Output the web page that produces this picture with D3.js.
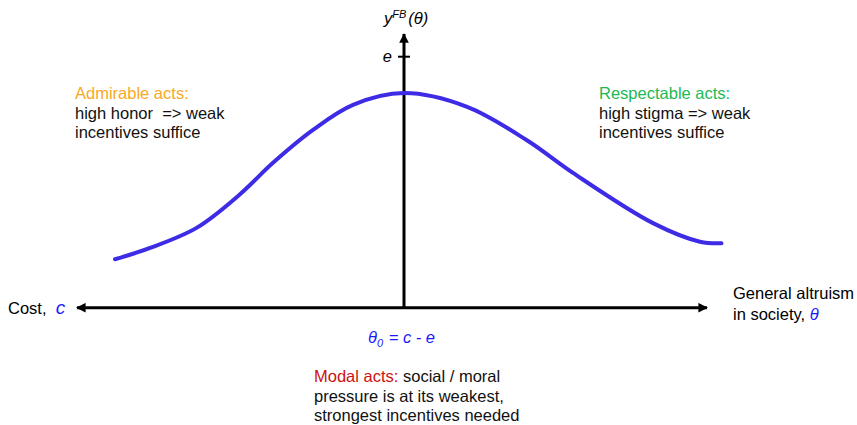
<!DOCTYPE html>
<html>
<head>
<meta charset="utf-8">
<script src="https://cdn.jsdelivr.net/npm/d3@7"></script>
<style>
  body { margin: 0; background: #fff; }
  svg { font-family: "Liberation Sans", Arial, sans-serif; }
  text { white-space: pre; }
</style>
</head>
<body>
<div id="chart"></div>
<script>
// curva y^FB(theta), letta a occhio dall'immagine
const thetaVals = [-5.78, -5.08, -4.15, -3.28, -2.62, -1.82, -1.02, 0, 1.25, 2.45, 3.38, 4.98, 5.92, 6.35];
const yVals = [0.193, 0.238, 0.318, 0.452, 0.577, 0.708, 0.808, 0.855, 0.801, 0.668, 0.537, 0.337, 0.263, 0.257];

// estremi degli assi (in unita' dei dati)
const xAxisExtent = [-6.54, 6.06];
const yAxisTop = 1.09;
const eValue = 1;

const width = 857, height = 425;
const fs = 16.5; // dimensione testo

const svg = d3.select("#chart").append("svg")
    .attr("width", width)
    .attr("height", height);

const x = d3.scaleLinear().domain([0, 1]).range([404, 454]); // 50px per unita'
const y = d3.scaleLinear().domain([0, 1]).range([307.7, 56.7]);

// punte delle frecce
const defs = svg.append("defs");
defs.append("marker")
    .attr("id", "arrow")
    .attr("viewBox", "0 0 10 10")
    .attr("refX", 9)
    .attr("refY", 5)
    .attr("markerWidth", 4.2)
    .attr("markerHeight", 3.2)
    .attr("markerUnits", "strokeWidth")
    .attr("orient", "auto-start-reverse")
    .append("path")
    .attr("d", "M0,0 L10,5 L0,10 z")
    .attr("fill", "#000");

// asse orizzontale (frecce da entrambi i lati)
svg.append("line")
    .attr("x1", x(xAxisExtent[0])).attr("x2", x(xAxisExtent[1]))
    .attr("y1", y(0)).attr("y2", y(0))
    .attr("stroke", "#000").attr("stroke-width", 3)
    .attr("marker-start", "url(#arrow)")
    .attr("marker-end", "url(#arrow)");

// asse verticale
svg.append("line")
    .attr("x1", x(0)).attr("x2", x(0))
    .attr("y1", y(0)).attr("y2", y(yAxisTop))
    .attr("stroke", "#000").attr("stroke-width", 3)
    .attr("marker-end", "url(#arrow)");

// tacca "e"
svg.append("line")
    .attr("x1", x(0) - 6).attr("x2", x(0) + 6)
    .attr("y1", y(eValue)).attr("y2", y(eValue))
    .attr("stroke", "#000").attr("stroke-width", 2);

svg.append("text")
    .attr("x", x(0) - 12).attr("y", y(eValue) + 5)
    .attr("text-anchor", "end")
    .attr("font-size", fs).attr("font-style", "italic")
    .text("e");

// curva
const line = d3.line()
    .x((d, i) => x(thetaVals[i]))
    .y(d => y(d))
    .curve(d3.curveCatmullRom.alpha(0.5));

svg.append("path")
    .datum(yVals)
    .attr("d", line)
    .attr("fill", "none")
    .attr("stroke", "#3d2be6")
    .attr("stroke-width", 4)
    .attr("stroke-linecap", "round");

// etichetta asse y
const yl = svg.append("text")
    .attr("x", 384).attr("y", 24)
    .attr("font-size", fs).attr("font-style", "italic");
yl.append("tspan").text("y");
yl.append("tspan").attr("font-size", 11).attr("dy", -6).text("FB");
yl.append("tspan").attr("dy", 6).attr("dx", 2).text("(θ)");

// etichetta sinistra
const cost = svg.append("text")
    .attr("x", 8).attr("y", 314)
    .attr("font-size", fs);
cost.append("tspan").text("Cost,  ");
cost.append("tspan").attr("fill", "#1a1aff").attr("font-style", "italic").attr("font-size", 19).text("c");

// etichetta destra
const alt = svg.append("text").attr("font-size", fs);
alt.append("tspan").attr("x", 733).attr("y", 299).text("General altruism");
alt.append("tspan").attr("x", 733).attr("y", 320).text("in society, ");
alt.append("tspan").attr("fill", "#1a1aff").attr("font-style", "italic").text("θ");

// theta_0
const t0 = svg.append("text")
    .attr("x", x(0) - 36).attr("y", 343)
    .attr("font-size", fs).attr("font-style", "italic")
    .attr("fill", "#1a1aff");
t0.append("tspan").text("θ");
t0.append("tspan").attr("font-size", 11).attr("dy", 4).text("0");
t0.append("tspan").attr("dy", -4).attr("dx", 1).text(" = c - e");

// blocchi di testo
function block(x0, y0, head, headColor, rest) {
    const g = svg.append("text").attr("font-size", fs).attr("fill", "#111");
    g.append("tspan").attr("x", x0).attr("y", y0).attr("fill", headColor).text(head[0]);
    if (head[1]) g.append("tspan").text(head[1]);
    rest.forEach((r, i) => {
        g.append("tspan").attr("x", x0).attr("y", y0 + 19.5 * (i + 1)).text(r);
    });
}

block(75, 99, ["Admirable acts:"], "#f9a825", ["high honor  => weak", "incentives suffice"]);
block(599, 99, ["Respectable acts:"], "#1db954", ["high stigma => weak", "incentives suffice"]);
block(314, 382, ["Modal acts:", " social / moral"], "#cc1111", ["pressure is at its weakest,", "strongest incentives needed"]);
</script>
</body>
</html>
